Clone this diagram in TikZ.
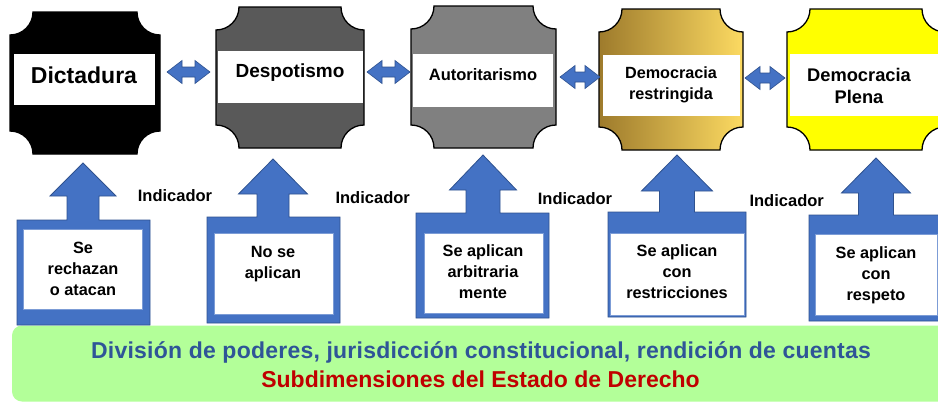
\documentclass[tikz,border=0pt]{standalone}
\usepackage{fontspec}
\setmainfont{Liberation Sans}
\newfontfamily\widefont{Liberation Sans}[LetterSpace=1]
\usetikzlibrary{calc}
\definecolor{ablue}{RGB}{68,114,196}
\definecolor{ablueD}{RGB}{47,82,143}
\definecolor{plqtwo}{RGB}{89,89,89}
\definecolor{plqthree}{RGB}{128,128,128}
\definecolor{goldL}{RGB}{158,123,44}
\definecolor{goldR}{RGB}{252,218,98}
\definecolor{plqyellow}{RGB}{255,255,0}
\definecolor{greenbg}{RGB}{179,255,153}
\definecolor{txtblue}{RGB}{47,85,151}
\definecolor{txtred}{RGB}{192,0,0}

\newcommand\plaqueshape[2]{%
 \path[#2] ($(#1.north west)+(23,0)$) -- ($(#1.north east)+(-23,0)$)
  .. controls ($(#1.north east)+(-23,12.7)$) and ($(#1.north east)+(-12.7,23)$) .. ($(#1.north east)+(0,23)$)
  -- ($(#1.south east)+(0,-23)$)
  .. controls ($(#1.south east)+(-12.7,-23)$) and ($(#1.south east)+(-23,-12.7)$) .. ($(#1.south east)+(-23,0)$)
  -- ($(#1.south west)+(23,0)$)
  .. controls ($(#1.south west)+(23,-12.7)$) and ($(#1.south west)+(12.7,-23)$) .. ($(#1.south west)+(0,-23)$)
  -- ($(#1.north west)+(0,23)$)
  .. controls ($(#1.north west)+(12.7,23)$) and ($(#1.north west)+(23,12.7)$) .. ($(#1.north west)+(23,0)$)
  -- cycle;}

% double arrow between two named coordinates
\newcommand\mydbl[2]{%
 \path[dblarr] (#1) -- ++(15,-11.5) -- ++(0,6.5) -- ($(#2)+(-15,-5)$) -- ++(0,-6.5) -- (#2)
   -- ++(-15,11.5) -- ++(0,-6.5) -- ($(#1)+(15,5)$) -- ++(0,6.5) -- cycle;}

% up arrow callout: x0,y0,x1,y1,headbase,tipx,tipy,headhalf,shafthalf
\newcommand\mycallout[9]{%
 \path[callst] (#1,#2) -- (#6-#9,#2) -- (#6-#9,#5) -- (#6-#8,#5) -- (#6,#7) -- (#6+#8,#5)
   -- (#6+#9,#5) -- (#6+#9,#2) -- (#3,#2) -- (#3,#4) -- (#1,#4) -- cycle;}

\begin{document}
\begin{tikzpicture}[x=1pt,y=-1pt,
  plq/.style={draw=black,line width=1.3pt},
  pbox/.style={draw=none,inner sep=0pt,outer sep=0pt},
  band/.style={fill=white,draw=none,inner sep=0pt,outer sep=0pt},
  dblarr/.style={fill=ablue,draw=ablueD,line width=0.6pt,line join=miter},
  callst/.style={fill=ablue,draw=ablueD,line width=0.8pt},
  inbox/.style={fill=white,draw=ablue!70,line width=0.6pt,inner sep=0pt,outer sep=0pt},
  lbl/.style={inner sep=0pt,align=center,font=\bfseries\fontsize{16.3}{21}\selectfont},
  ind/.style={inner sep=0pt,anchor=base,font=\bfseries\fontsize{16.5}{20}\selectfont},
]
\useasboundingbox (0,0) rectangle (938,402);
\fill[white] (0,0) rectangle (938,402);
\clip (0,0) rectangle (938,402);

% green base
\node[pbox, fill=greenbg, rounded corners=10pt, minimum width=940pt, minimum height=76pt] (base) at (482,363.5) {};
\node[inner sep=0pt, anchor=base, text=txtblue, font=\widefont\bfseries\fontsize{23}{26}\selectfont] (sub1) at (481,358.3)
  {División de poderes, jurisdicción constitucional, rendición de cuentas};
\node[inner sep=0pt, anchor=base, text=txtred, font=\bfseries\fontsize{23}{26}\selectfont] (sub2) at (480.5,387.7)
  {Subdimensiones del Estado de Derecho};

% plaques
\node[pbox, minimum width=150pt, minimum height=142pt] (p1) at (85,83) {};
\node[pbox, minimum width=148pt, minimum height=141pt] (p2) at (290,77.5) {};
\node[pbox, minimum width=145pt, minimum height=142pt] (p3) at (483.5,77) {};
\node[pbox, minimum width=144pt, minimum height=141pt] (p4) at (671,79.5) {};
\node[pbox, minimum width=158pt, minimum height=141pt] (p5) at (866,79.5) {};

\plaqueshape{p1}{plq,fill=black}
\plaqueshape{p2}{plq,fill=plqtwo}
\plaqueshape{p3}{plq,fill=plqthree}
\plaqueshape{p4}{plq,left color=goldL,right color=goldR}
\plaqueshape{p5}{plq,fill=plqyellow}

\node[band, minimum width=141pt, minimum height=51pt] (b1) at (84.5,79.5) {};
\node[band, minimum width=145pt, minimum height=52pt] (b2) at (290.5,77) {};
\node[band, minimum width=140pt, minimum height=53pt] (b3) at (483,80.5) {};
\node[band, minimum width=137pt, minimum height=61pt] (b4) at (671.5,85.5) {};
\node[band, minimum width=155pt, minimum height=62pt] (b5) at (867.5,85) {};

\node[inner sep=0pt, anchor=base, font=\bfseries\fontsize{23}{26}\selectfont] (t1) at (84,83) {Dictadura};
\node[inner sep=0pt, anchor=base, font=\bfseries\fontsize{19}{22}\selectfont] (t2) at (290,77) {Despotismo};
\node[inner sep=0pt, anchor=base, font=\bfseries\fontsize{16.5}{20}\selectfont] (t3) at (483,80) {Autoritarismo};
\node[inner sep=0pt, align=center, font=\bfseries\fontsize{16.2}{21}\selectfont] (t4) at (671,85.3) {Democracia\\restringida};
\node[inner sep=0pt, align=center, font=\bfseries\fontsize{18.3}{22}\selectfont] (t5) at (859,86.3) {Democracia\\Plena};

% double arrows
\coordinate (d12a) at (167,72);  \coordinate (d12b) at (210,72);
\coordinate (d23a) at (367,72);  \coordinate (d23b) at (410,72);
\coordinate (d34a) at (560,77);  \coordinate (d34b) at (600,77);
\coordinate (d45a) at (745,78);  \coordinate (d45b) at (785,78);
\mydbl{d12a}{d12b}
\mydbl{d23a}{d23b}
\mydbl{d34a}{d34b}
\mydbl{d45a}{d45b}

% callouts
\mycallout{17}{220}{150}{325}{196}{83}{163}{33}{16}
\mycallout{207}{217}{340}{323}{194}{273}{159}{34.5}{16}
\mycallout{416}{213}{549}{318}{190}{483}{155}{33.5}{17}
\mycallout{608}{212}{746}{317}{191}{677}{155}{35.5}{17.5}
\mycallout{809}{215}{943}{321}{193}{876}{158}{34.5}{17.5}

\node[inbox, minimum width=119pt, minimum height=80pt] (w1) at (82.5,269) {};
\node[inbox, minimum width=119pt, minimum height=81pt] (w2) at (273.5,273.5) {};
\node[inbox, minimum width=119pt, minimum height=80pt] (w3) at (483.5,273) {};
\node[inbox, minimum width=134pt, minimum height=82pt] (w4) at (677,274) {};
\node[inbox, minimum width=122pt, minimum height=81pt] (w5) at (876,274.5) {};

\node[lbl] (s1) at (83,269) {Se\\rechazan\\o atacan};
\node[lbl] (s2) at (273,264.5) {No se\\aplican};
\node[lbl] (s3) at (483,272) {Se aplican\\arbitraria\\mente};
\node[lbl] (s4) at (677,271.5) {Se aplican\\con\\restricciones};
\node[lbl] (s5) at (876,275) {Se aplican\\con\\respeto};

% indicator labels
\node[ind] (i1) at (175,201) {Indicador};
\node[ind] (i2) at (372.7,203.3) {Indicador};
\node[ind] (i3) at (575,204.3) {Indicador};
\node[ind] (i4) at (786.7,206.7) {Indicador};
\end{tikzpicture}
\end{document}
